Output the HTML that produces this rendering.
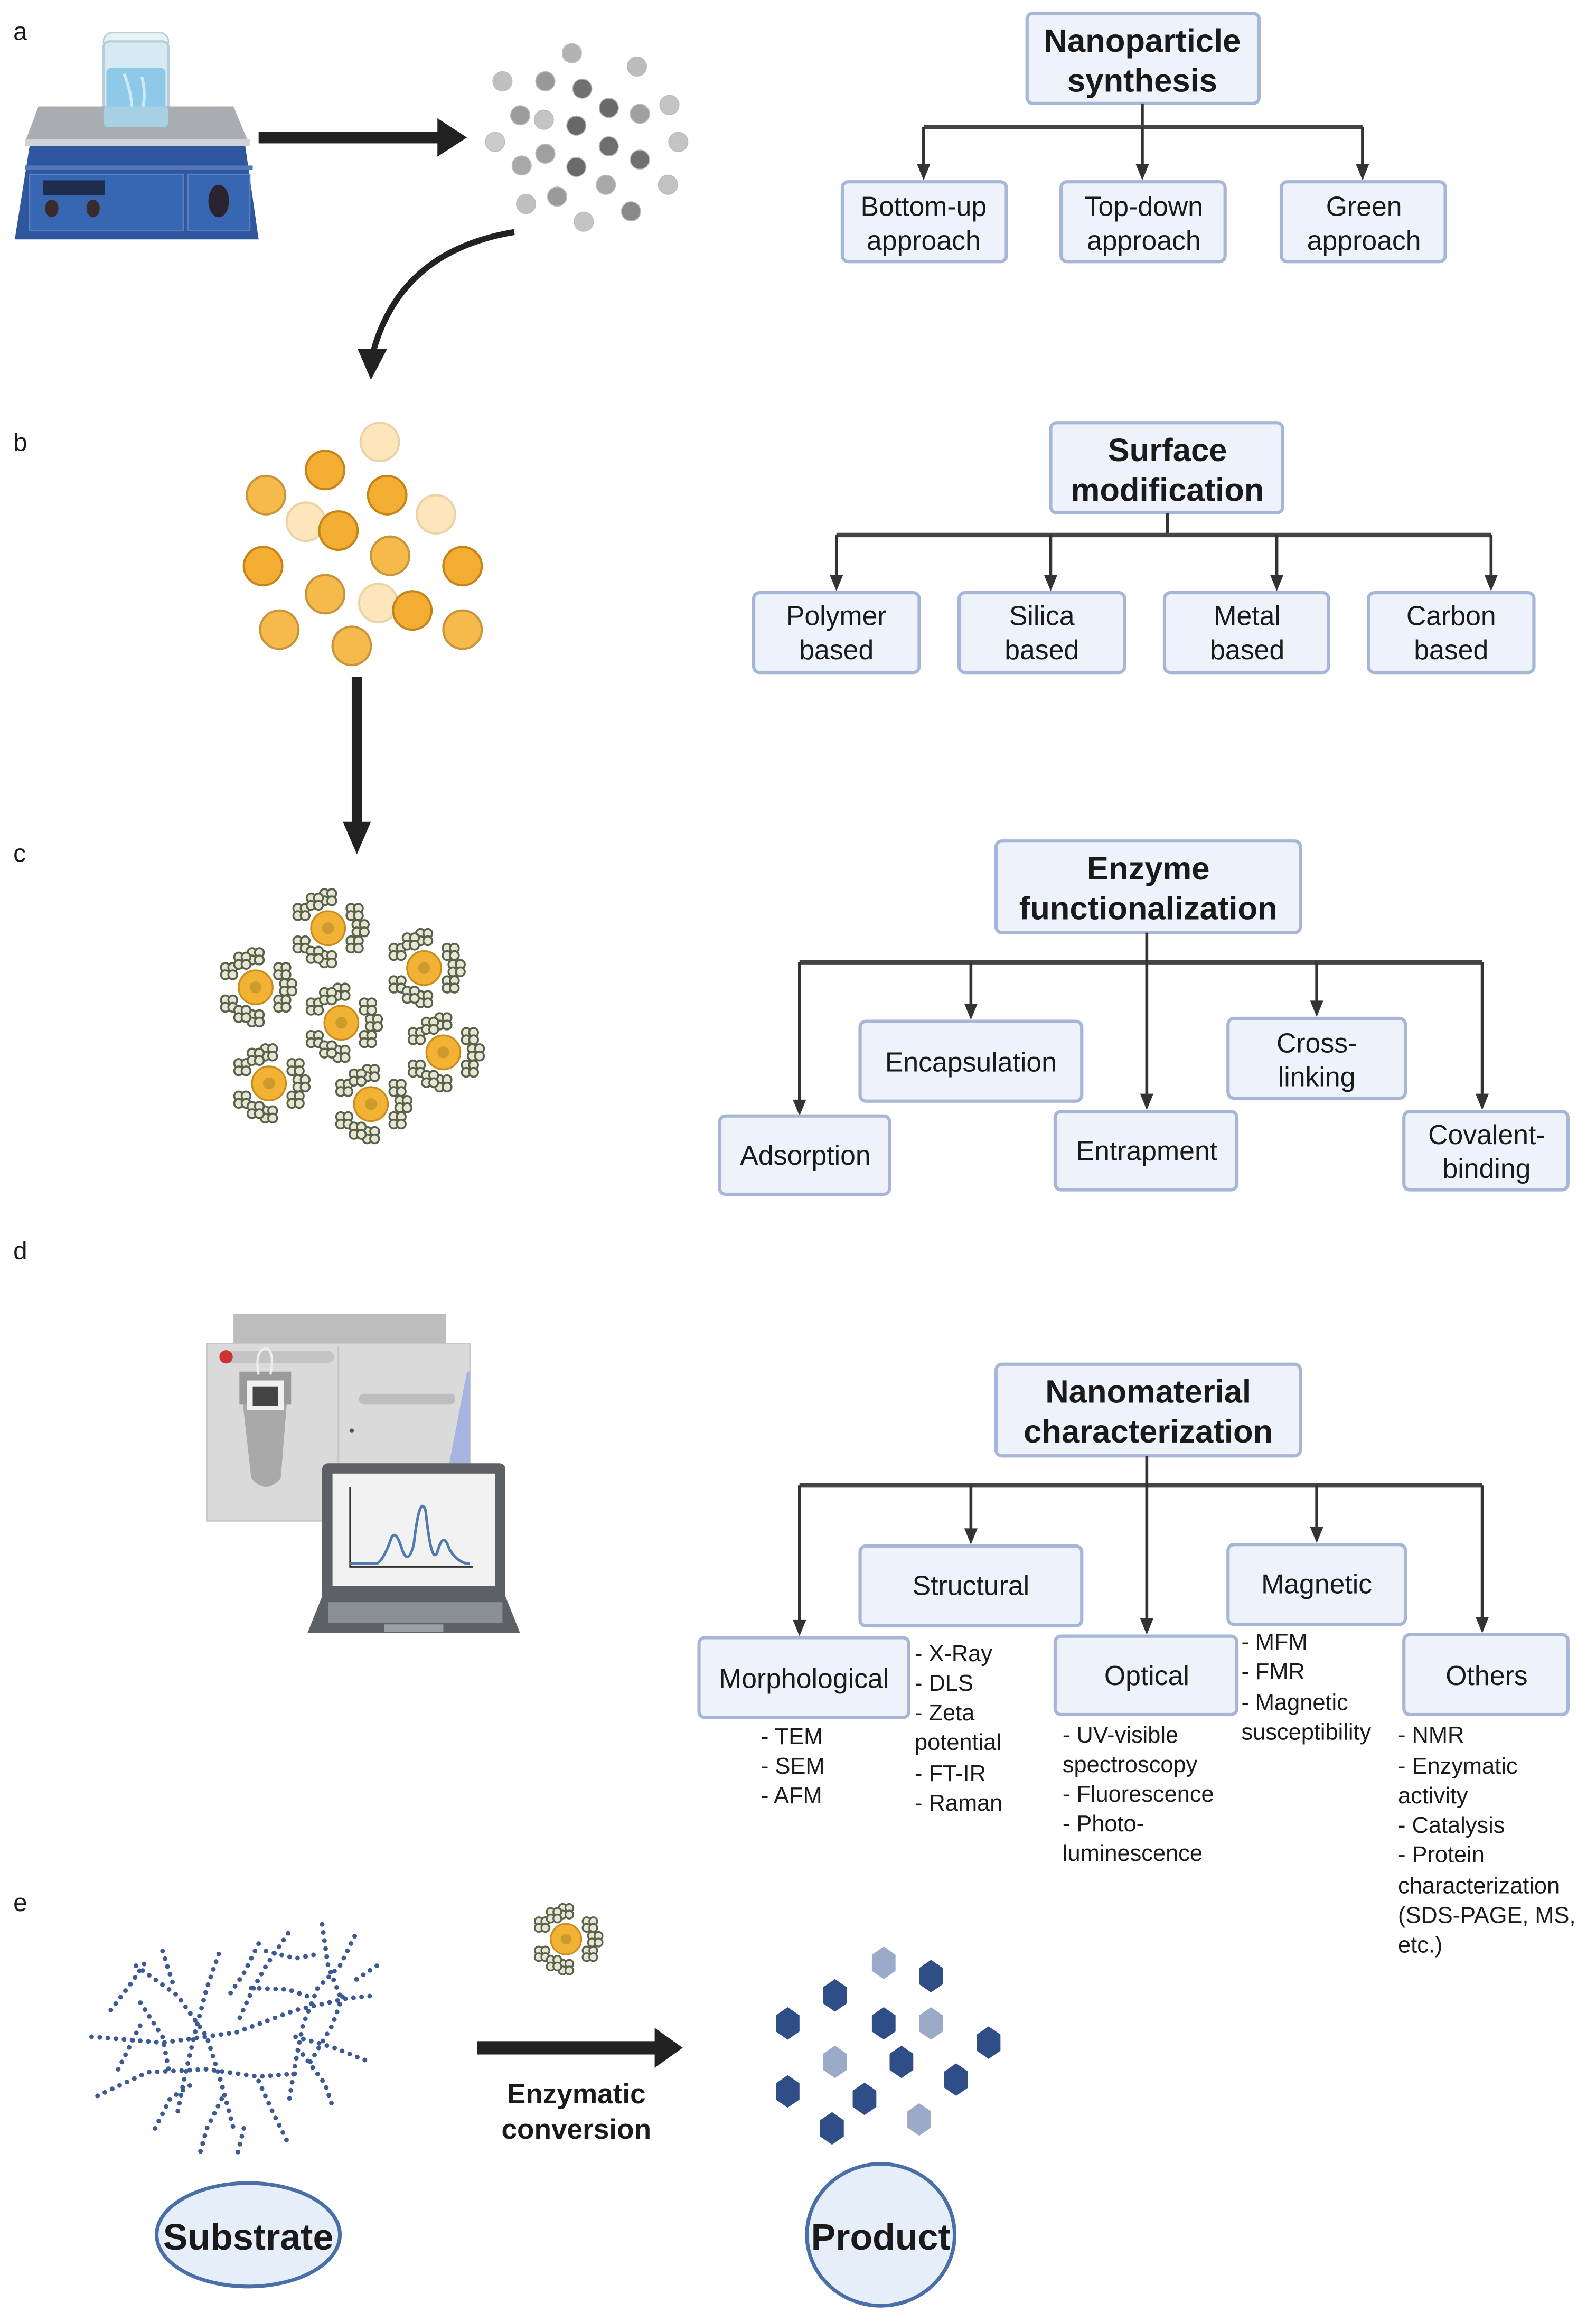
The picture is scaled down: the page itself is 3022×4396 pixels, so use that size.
<!DOCTYPE html>
<html><head><meta charset="utf-8"><style>
html,body{margin:0;padding:0;background:#fff;}
svg{display:block;}
text{font-family:"Liberation Sans",sans-serif;fill:#1a1a1a;}
.bx{fill:#eef3fb;stroke:#a7b6d6;stroke-width:2.2;}
.t{font-size:18.5px;text-anchor:middle;}
.h{font-size:22px;font-weight:bold;text-anchor:middle;}
.l{font-size:15.5px;}
.ln{stroke:#333;stroke-width:2;fill:none;}
.hl{stroke:#444;stroke-width:3;fill:none;}
.lab{font-size:17px;}
.ah{fill:#333;}
</style></head><body>
<svg width="3022" height="4396" viewBox="0 0 1080 1571" preserveAspectRatio="none" xmlns="http://www.w3.org/2000/svg">
<defs>
<polygon id="ahd" points="-4.5,-11 4.5,-11 0,0"/>
<g id="clv"><circle cx="-2.5" cy="-2.5" r="3" fill="#e4e7d6" stroke="#5b6048" stroke-width="1.3"/><circle cx="2.5" cy="-2.5" r="3" fill="#e4e7d6" stroke="#5b6048" stroke-width="1.3"/><circle cx="-2.5" cy="2.5" r="3" fill="#e4e7d6" stroke="#5b6048" stroke-width="1.3"/><circle cx="2.5" cy="2.5" r="3" fill="#e4e7d6" stroke="#5b6048" stroke-width="1.3"/></g>
<g id="enz">
<use href="#clv" x="0" y="-21"/><use href="#clv" x="18" y="-11"/><use href="#clv" x="18" y="11"/><use href="#clv" x="0" y="21"/><use href="#clv" x="-18" y="11"/><use href="#clv" x="-18" y="-11"/>
<use href="#clv" x="-9" y="-18"/><use href="#clv" x="22" y="0"/><use href="#clv" x="-9" y="18"/>
<circle r="11.5" fill="#f2b233" stroke="#c98a1e" stroke-width="1.2"/><circle r="4" fill="#b48a2a" opacity=".6"/>
</g>
<polygon id="hx" points="0,-11 8,-5.5 8,5.5 0,11 -8,5.5 -8,-5.5"/>
</defs>

<!-- labels -->
<text x="9" y="27" class="lab">a</text>
<text x="9" y="305" class="lab">b</text>
<text x="9" y="583" class="lab">c</text>
<text x="9" y="852" class="lab">d</text>
<text x="9" y="1293" class="lab">e</text>

<!-- hotplate -->
<rect x="70" y="22" width="44" height="12" rx="6" fill="#e8f1f6" stroke="#b9cdd8"/>
<rect x="70" y="28" width="44" height="64" rx="4" fill="#d6eaf4" stroke="#b9cdd8" stroke-width="1.5"/>
<rect x="72" y="46" width="40" height="44" rx="3" fill="#8ec9ea"/>
<path d="M84,50 Q92,70 88,88 M96,52 Q100,66 94,84" stroke="#cfe9f7" stroke-width="2" fill="none"/>
<polygon points="26,72 158,72 168,96 17,96" fill="#a9adb1"/>
<rect x="70" y="72" width="44" height="14" rx="3" fill="#a7d6ef" opacity=".85"/>
<rect x="17" y="94" width="152" height="5" fill="#cfd3d6"/>
<polygon points="20,99 166,99 175,162 10,162" fill="#2e57a0"/>
<rect x="17" y="112" width="154" height="3" fill="#5377b8"/>
<rect x="20" y="118" width="104" height="38" fill="#3766b3" stroke="#5b80c0"/>
<rect x="127" y="118" width="42" height="38" fill="#3766b3" stroke="#5b80c0"/>
<rect x="29" y="122" width="42" height="10" fill="#1f2d4d"/>
<ellipse cx="35" cy="141" rx="4.5" ry="6" fill="#3a2a2a"/>
<ellipse cx="63" cy="141" rx="4.5" ry="6" fill="#3a2a2a"/>
<ellipse cx="148" cy="136" rx="7" ry="11" fill="#2a2330"/>
<!-- arrow -->
<rect x="175" y="89" width="123" height="8" fill="#222"/>
<polygon points="296,80 316,93 296,106" fill="#222"/>
<!-- particles -->
<g stroke="#bbb" stroke-width=".6">
<circle cx="387" cy="36" r="6.5" fill="#b3b3b3"/><circle cx="431" cy="45" r="6.5" fill="#bcbcbc"/>
<circle cx="340" cy="55" r="6.5" fill="#c0c0c0"/><circle cx="369" cy="55" r="6.5" fill="#999"/><circle cx="394" cy="60" r="6.5" fill="#707070"/>
<circle cx="412" cy="73" r="6.5" fill="#6a6a6a"/><circle cx="433" cy="77" r="6.5" fill="#a0a0a0"/><circle cx="453" cy="71" r="6.5" fill="#c4c4c4"/>
<circle cx="352" cy="78" r="6.5" fill="#9c9c9c"/><circle cx="368" cy="81" r="6.5" fill="#c4c4c4"/><circle cx="390" cy="85" r="6.5" fill="#686868"/>
<circle cx="335" cy="96" r="6.5" fill="#cacaca"/><circle cx="459" cy="96" r="6.5" fill="#c4c4c4"/><circle cx="412" cy="99" r="6.5" fill="#6e6e6e"/>
<circle cx="369" cy="104" r="6.5" fill="#a0a0a0"/><circle cx="353" cy="112" r="6.5" fill="#a8a8a8"/><circle cx="390" cy="113" r="6.5" fill="#6a6a6a"/><circle cx="433" cy="108" r="6.5" fill="#707070"/>
<circle cx="410" cy="125" r="6.5" fill="#a8a8a8"/><circle cx="452" cy="125" r="6.5" fill="#c2c2c2"/><circle cx="377" cy="133" r="6.5" fill="#9a9a9a"/><circle cx="356" cy="138" r="6.5" fill="#c0c0c0"/>
<circle cx="427" cy="143" r="6.5" fill="#8a8a8a"/><circle cx="395" cy="150" r="6.5" fill="#c4c4c4"/>
</g>
<!-- curved arrow -->
<path d="M348,157 Q270,170 252,240" stroke="#222" stroke-width="4" fill="none"/>
<polygon points="242,236 262,236 251,257" fill="#222"/>

<!-- a tree -->
<rect class="bx" x="695" y="9" width="157" height="61" rx="4"/>
<text class="h" x="773" y="35">Nanoparticle</text><text class="h" x="773" y="62">synthesis</text>
<line class="ln" x1="773" y1="70" x2="773" y2="86"/>
<line class="hl" x1="625" y1="86" x2="922" y2="86"/>
<line class="ln" x1="625" y1="86" x2="625" y2="112"/><use class="ah" href="#ahd" x="625" y="122"/>
<line class="ln" x1="773" y1="86" x2="773" y2="112"/><use class="ah" href="#ahd" x="773" y="122"/>
<line class="ln" x1="922" y1="86" x2="922" y2="112"/><use class="ah" href="#ahd" x="922" y="122"/>
<rect class="bx" x="570" y="123" width="111" height="54" rx="4"/><text class="t" x="625" y="146">Bottom-up</text><text class="t" x="625" y="169">approach</text>
<rect class="bx" x="718" y="123" width="111" height="54" rx="4"/><text class="t" x="774" y="146">Top-down</text><text class="t" x="774" y="169">approach</text>
<rect class="bx" x="867" y="123" width="111" height="54" rx="4"/><text class="t" x="923" y="146">Green</text><text class="t" x="923" y="169">approach</text>

<!-- b orange -->
<g stroke-width="1.5">
<circle cx="257" cy="299" r="13" fill="#fde5bc" stroke="#ecd3a6"/>
<circle cx="220" cy="318" r="13" fill="#f4ad33" stroke="#c48418"/>
<circle cx="180" cy="335" r="13" fill="#f6b94c" stroke="#c9953c"/>
<circle cx="262" cy="335" r="13" fill="#f4ad33" stroke="#c48418"/>
<circle cx="295" cy="348" r="13" fill="#fde5bc" stroke="#ecd3a6"/>
<circle cx="207" cy="353" r="13" fill="#fde5bc" stroke="#ecd3a6"/>
<circle cx="229" cy="359" r="13" fill="#f4ad33" stroke="#c48418"/>
<circle cx="178" cy="383" r="13" fill="#f4ad33" stroke="#c48418"/>
<circle cx="264" cy="376" r="13" fill="#f6b94c" stroke="#c9953c"/>
<circle cx="313" cy="383" r="13" fill="#f4ad33" stroke="#c48418"/>
<circle cx="220" cy="402" r="13" fill="#f6b94c" stroke="#c9953c"/>
<circle cx="256" cy="408" r="13" fill="#fde5bc" stroke="#ecd3a6"/>
<circle cx="279" cy="413" r="13" fill="#f4ad33" stroke="#c48418"/>
<circle cx="189" cy="426" r="13" fill="#f6b94c" stroke="#c9953c"/>
<circle cx="238" cy="437" r="13" fill="#f6b94c" stroke="#c9953c"/>
<circle cx="313" cy="426" r="13" fill="#f6b94c" stroke="#c9953c"/>
</g>
<rect x="238" y="458" width="7" height="100" fill="#222"/>
<polygon points="232,556 251,556 241.5,578" fill="#222"/>

<!-- b tree -->
<rect class="bx" x="711" y="286" width="157" height="61" rx="4"/>
<text class="h" x="790" y="312">Surface</text><text class="h" x="790" y="339">modification</text>
<line class="ln" x1="790" y1="347" x2="790" y2="362"/>
<line class="hl" x1="566" y1="362" x2="1009" y2="362"/>
<line class="ln" x1="566" y1="362" x2="566" y2="390"/><use class="ah" href="#ahd" x="566" y="400"/>
<line class="ln" x1="711" y1="362" x2="711" y2="390"/><use class="ah" href="#ahd" x="711" y="400"/>
<line class="ln" x1="864" y1="362" x2="864" y2="390"/><use class="ah" href="#ahd" x="864" y="400"/>
<line class="ln" x1="1009" y1="362" x2="1009" y2="390"/><use class="ah" href="#ahd" x="1009" y="400"/>
<rect class="bx" x="510" y="401" width="112" height="54" rx="4"/><text class="t" x="566" y="423">Polymer</text><text class="t" x="566" y="446">based</text>
<rect class="bx" x="649" y="401" width="112" height="54" rx="4"/><text class="t" x="705" y="423">Silica</text><text class="t" x="705" y="446">based</text>
<rect class="bx" x="788" y="401" width="111" height="54" rx="4"/><text class="t" x="844" y="423">Metal</text><text class="t" x="844" y="446">based</text>
<rect class="bx" x="926" y="401" width="112" height="54" rx="4"/><text class="t" x="982" y="423">Carbon</text><text class="t" x="982" y="446">based</text>

<!-- c enzymes -->
<use href="#enz" x="222" y="628"/>
<use href="#enz" x="287" y="655"/>
<use href="#enz" x="173" y="668"/>
<use href="#enz" x="231" y="692"/>
<use href="#enz" x="300" y="712"/>
<use href="#enz" x="182" y="733"/>
<use href="#enz" x="251" y="747"/>

<!-- c tree -->
<rect class="bx" x="674" y="569" width="206" height="62" rx="4"/>
<text class="h" x="777" y="595">Enzyme</text><text class="h" x="777" y="622">functionalization</text>
<line class="hl" x1="541" y1="651" x2="1003" y2="651"/>
<line class="ln" x1="776" y1="631" x2="776" y2="741"/><use class="ah" href="#ahd" x="776" y="751"/>
<line class="ln" x1="541" y1="651" x2="541" y2="745"/><use class="ah" href="#ahd" x="541" y="755"/>
<line class="ln" x1="657" y1="651" x2="657" y2="680"/><use class="ah" href="#ahd" x="657" y="690"/>
<line class="ln" x1="891" y1="651" x2="891" y2="678"/><use class="ah" href="#ahd" x="891" y="688"/>
<line class="ln" x1="1003" y1="651" x2="1003" y2="741"/><use class="ah" href="#ahd" x="1003" y="751"/>
<rect class="bx" x="487" y="755" width="115" height="53" rx="4"/><text class="t" x="545" y="788">Adsorption</text>
<rect class="bx" x="582" y="691" width="150" height="54" rx="4"/><text class="t" x="657" y="725">Encapsulation</text>
<rect class="bx" x="714" y="752" width="123" height="53" rx="4"/><text class="t" x="776" y="785">Entrapment</text>
<rect class="bx" x="831" y="689" width="120" height="54" rx="4"/><text class="t" x="891" y="712">Cross-</text><text class="t" x="891" y="735">linking</text>
<rect class="bx" x="950" y="752" width="111" height="53" rx="4"/><text class="t" x="1006" y="774">Covalent-</text><text class="t" x="1006" y="797">binding</text>

<!-- d instrument -->
<rect x="158" y="889" width="144" height="22" fill="#bdbdbd"/>
<rect x="140" y="909" width="178" height="120" fill="#dadada" stroke="#c8c8c8"/>
<line x1="229" y1="911" x2="229" y2="1028" stroke="#c4c4c4"/>
<rect x="148" y="914" width="78" height="8" rx="4" fill="#c4c4c4"/>
<circle cx="153" cy="918" r="4.5" fill="#c33"/>
<path d="M163,938 L195,938 L190,1000 Q180,1012 170,1000 Z" fill="#a9a9a9"/>
<rect x="162" y="928" width="35" height="22" fill="#9a9a9a"/>
<rect x="167" y="934" width="25" height="20" fill="#f0f0f0"/><rect x="171" y="938" width="17" height="13" fill="#444"/>
<path d="M175,930 Q172,914 180,912 Q186,914 183,930" stroke="#eee" stroke-width="1.5" fill="none"/>
<rect x="243" y="943" width="65" height="7" rx="3" fill="#bdbdbd"/>
<circle cx="238" cy="968" r="1.5" fill="#555"/>
<polygon points="316,928 318,928 318,990 304,990" fill="#a6b4e0"/>
<rect x="218" y="990" width="124" height="95" rx="4" fill="#5d6166"/>
<rect x="225" y="997" width="110" height="76" fill="#f2f2f2"/>
<path d="M237,1006 L237,1060 L320,1060" stroke="#333" stroke-width="1.3" fill="none"/>
<path d="M237,1058 L255,1058 Q260,1055 265,1040 Q268,1035 272,1048 Q276,1060 280,1045 Q284,1010 288,1022 Q292,1060 296,1050 Q300,1035 304,1048 Q310,1058 318,1058" stroke="#4f7bb0" stroke-width="1.8" fill="none"/>
<polygon points="218,1080 342,1080 352,1105 208,1105" fill="#5d6166"/>
<rect x="222" y="1084" width="118" height="14" fill="#8a9096"/>
<rect x="260" y="1099" width="40" height="5" fill="#9aa0a6"/>

<!-- d tree -->
<rect class="bx" x="674" y="923" width="206" height="62" rx="4"/>
<text class="h" x="777" y="949">Nanomaterial</text><text class="h" x="777" y="976">characterization</text>
<line class="hl" x1="541" y1="1005" x2="1003" y2="1005"/>
<line class="ln" x1="776" y1="985" x2="776" y2="1096"/><use class="ah" href="#ahd" x="776" y="1106"/>
<line class="ln" x1="541" y1="1005" x2="541" y2="1097"/><use class="ah" href="#ahd" x="541" y="1107"/>
<line class="ln" x1="657" y1="1005" x2="657" y2="1035"/><use class="ah" href="#ahd" x="657" y="1045"/>
<line class="ln" x1="891" y1="1005" x2="891" y2="1034"/><use class="ah" href="#ahd" x="891" y="1044"/>
<line class="ln" x1="1003" y1="1005" x2="1003" y2="1095"/><use class="ah" href="#ahd" x="1003" y="1105"/>
<rect class="bx" x="473" y="1108" width="142" height="54" rx="4"/><text class="t" x="544" y="1142">Morphological</text>
<rect class="bx" x="582" y="1046" width="150" height="54" rx="4"/><text class="t" x="657" y="1079">Structural</text>
<rect class="bx" x="714" y="1107" width="123" height="53" rx="4"/><text class="t" x="776" y="1140">Optical</text>
<rect class="bx" x="831" y="1045" width="120" height="54" rx="4"/><text class="t" x="891" y="1078">Magnetic</text>
<rect class="bx" x="950" y="1106" width="111" height="54" rx="4"/><text class="t" x="1006" y="1140">Others</text>

<g class="l">
<text x="515" y="1180" class="l">- TEM</text><text x="515" y="1200" class="l">- SEM</text><text x="515" y="1220" class="l">- AFM</text>
<text x="619" y="1124" class="l">- X-Ray</text><text x="619" y="1144" class="l">- DLS</text><text x="619" y="1164" class="l">- Zeta</text><text x="619" y="1184" class="l">potential</text><text x="619" y="1205" class="l">- FT-IR</text><text x="619" y="1225" class="l">- Raman</text>
<text x="719" y="1179" class="l">- UV-visible</text><text x="719" y="1199" class="l">spectroscopy</text><text x="719" y="1219" class="l">- Fluorescence</text><text x="719" y="1239" class="l">- Photo-</text><text x="719" y="1259" class="l">luminescence</text>
<text x="840" y="1116" class="l">- MFM</text><text x="840" y="1136" class="l">- FMR</text><text x="840" y="1157" class="l">- Magnetic</text><text x="840" y="1177" class="l">susceptibility</text>
<text x="946" y="1179" class="l">- NMR</text><text x="946" y="1200" class="l">- Enzymatic</text><text x="946" y="1220" class="l">activity</text><text x="946" y="1240" class="l">- Catalysis</text><text x="946" y="1260" class="l">- Protein</text><text x="946" y="1281" class="l">characterization</text><text x="946" y="1301" class="l">(SDS-PAGE, MS,</text><text x="946" y="1321" class="l">etc.)</text>
</g>

<!-- e substrate network -->
<g stroke="#3d5a94" stroke-width="3.2" stroke-linecap="round" stroke-dasharray="0 5.5" fill="none">
<path d="M62,1378 L110,1382 L160,1375 L200,1360 L235,1352 L255,1350"/>
<path d="M66,1418 L100,1402 L140,1400 L175,1405 L200,1403"/>
<path d="M92,1330 L120,1350 L140,1378 L150,1410 L158,1440"/>
<path d="M110,1320 L118,1345"/>
<path d="M148,1322 L140,1345 L132,1375 L125,1405 L120,1430"/>
<path d="M175,1315 L165,1335 L155,1350"/>
<path d="M195,1308 L180,1330 L170,1348 L160,1370"/>
<path d="M218,1302 L222,1330 L230,1350"/>
<path d="M240,1310 L230,1330 L215,1345 L205,1370 L200,1395 L195,1425"/>
<path d="M255,1330 L240,1340"/>
<path d="M170,1345 L195,1346 L212,1352"/>
<path d="M95,1355 L110,1378 L115,1405"/>
<path d="M80,1400 L95,1370"/>
<path d="M200,1378 L225,1385 L250,1395"/>
<path d="M205,1390 L220,1410 L225,1425"/>
<path d="M175,1408 L185,1430 L195,1450"/>
<path d="M150,1420 L140,1440 L135,1458"/>
<path d="M165,1440 L160,1460"/>
<path d="M210,1395 L225,1370 L232,1350"/>
<path d="M75,1360 L90,1340 L100,1325"/>
<path d="M105,1440 L115,1420 L130,1410"/>
<path d="M180,1320 L200,1325 L215,1322"/>
</g>
<ellipse cx="168" cy="1512" rx="62" ry="35" fill="#e6eef9" stroke="#4a6ea8" stroke-width="2.5"/>
<text x="168" y="1522" font-size="25" font-weight="bold" text-anchor="middle">Substrate</text>

<use href="#enz" x="383" y="1312" transform="translate(383 1312) scale(0.9) translate(-383 -1312)"/>
<rect x="323" y="1381" width="122" height="9" fill="#222"/>
<polygon points="443,1372 462,1385.5 443,1399" fill="#222"/>
<text x="390" y="1423" font-size="19" font-weight="bold" text-anchor="middle">Enzymatic</text>
<text x="390" y="1447" font-size="19" font-weight="bold" text-anchor="middle">conversion</text>

<g fill="#2f4d86">
<use href="#hx" x="630" y="1337"/><use href="#hx" x="565" y="1350"/><use href="#hx" x="533" y="1369"/><use href="#hx" x="598" y="1369"/>
<use href="#hx" x="669" y="1382"/><use href="#hx" x="610" y="1395"/><use href="#hx" x="533" y="1415"/><use href="#hx" x="647" y="1407"/>
<use href="#hx" x="585" y="1420"/><use href="#hx" x="563" y="1440"/>
</g>
<g fill="#9aaac8">
<use href="#hx" x="598" y="1328"/><use href="#hx" x="630" y="1369"/><use href="#hx" x="565" y="1395"/><use href="#hx" x="622" y="1434"/>
</g>
<ellipse cx="596" cy="1512" rx="50" ry="48" fill="#e6eef9" stroke="#4a6ea8" stroke-width="2.5"/>
<text x="596" y="1522" font-size="25" font-weight="bold" text-anchor="middle">Product</text>
</svg>
</body></html>
